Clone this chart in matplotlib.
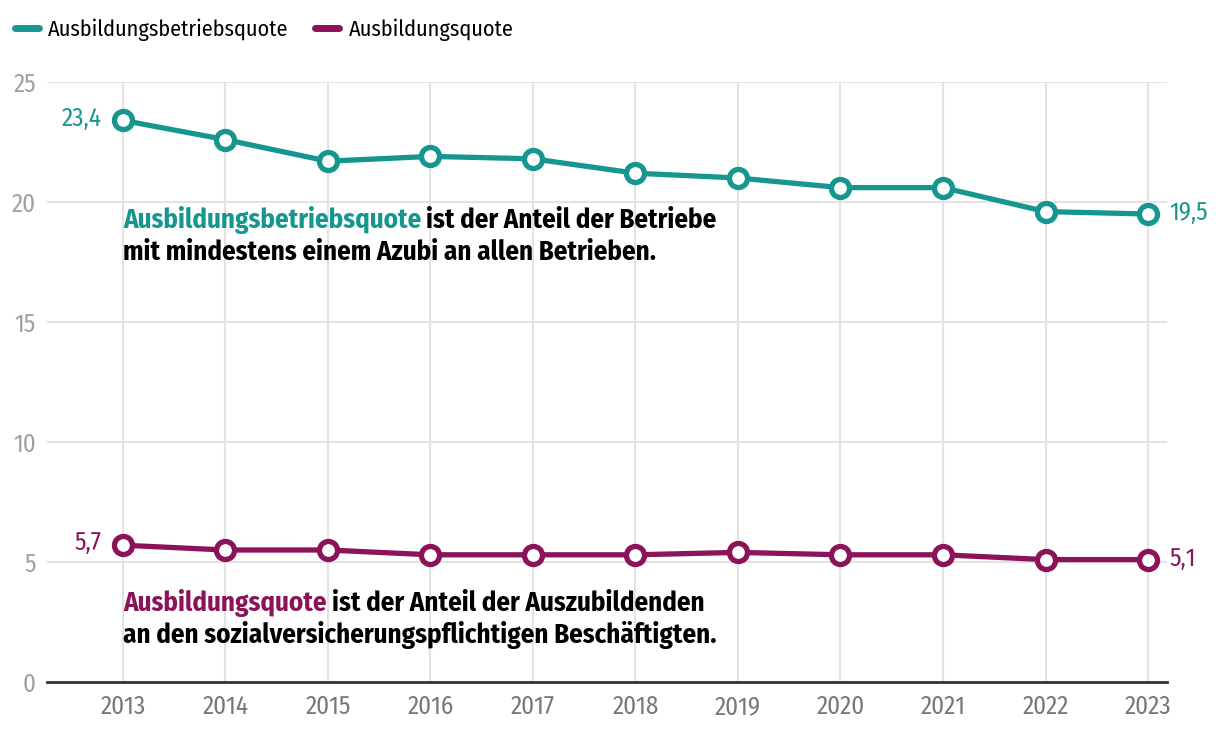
import matplotlib
matplotlib.use("Agg")
import matplotlib.pyplot as plt

years = [2013, 2014, 2015, 2016, 2017, 2018, 2019, 2020, 2021, 2022, 2023]
betriebsquote = [23.4, 22.6, 21.7, 21.9, 21.8, 21.2, 21.0, 20.6, 20.6, 19.6, 19.5]
ausbildungsquote = [5.7, 5.5, 5.5, 5.3, 5.3, 5.3, 5.4, 5.3, 5.3, 5.1, 5.1]
yticks = [0, 5, 10, 15, 20, 25]
series_names = ["Ausbildungsbetriebsquote", "Ausbildungsquote"]

TEAL = "#17968f"
PURPLE = "#8c1259"

plt.rcParams['font.family'] = ['Fira Sans Condensed', 'DejaVu Sans']

fig = plt.figure(figsize=(12.2, 7.32), dpi=100)
ax = fig.add_axes([47/1220, 1-682/732, (1167-47)/1220, (682-82)/732])

ax.set_xlim(2013 - 0.74, 2023 + 0.185)
ax.set_ylim(0, 25)
ax.set_yticks(yticks)
ax.set_xticks(years)
ax.grid(True, color="#e3e3e3", linewidth=1.5)
ax.set_axisbelow(True)
for s in ["top", "right", "left"]:
    ax.spines[s].set_visible(False)
ax.spines["bottom"].set_color("#333333")
ax.spines["bottom"].set_linewidth(2)
ax.tick_params(axis="both", length=0)
ax.tick_params(axis="y", labelsize=18, labelcolor="#a0a0a0", pad=8)
ax.tick_params(axis="x", labelsize=18, labelcolor="#777777", pad=9)

for vals, col, name in [(betriebsquote, TEAL, series_names[0]), (ausbildungsquote, PURPLE, series_names[1])]:
    ax.plot(years, vals, color=col, linewidth=3.8, marker="o", markersize=13,
            markerfacecolor="white", markeredgecolor=col, markeredgewidth=3.8,
            label=name, zorder=3, solid_capstyle="round")
    ax.annotate(f"{vals[0]:.1f}".replace(".", ","), (years[0], vals[0]),
                xytext=(-15.5, 1.5), textcoords="offset points", ha="right", va="center",
                color=col, fontsize=18)
    ax.annotate(f"{vals[-1]:.1f}".replace(".", ","), (years[-1], vals[-1]),
                xytext=(15.5, 1), textcoords="offset points", ha="left", va="center",
                color=col, fontsize=18)

# Explanation texts
def two_part(y_px, colored, col, rest1, line2):
    x0 = 123 / 1220
    t = fig.text(x0, 1 - y_px / 732, colored, color=col, fontsize=19.4, fontweight="bold", va="center")
    fig.canvas.draw()
    bb = t.get_window_extent()
    fig.text(bb.x1 / 1220 + 5 / 1220, 1 - y_px / 732, rest1, color="black", fontsize=19.4,
             fontweight="bold", va="center")
    fig.text(x0, 1 - (y_px + 32) / 732, line2, color="black", fontsize=19.4, fontweight="bold", va="center")

two_part(220, "Ausbildungsbetriebsquote", TEAL, "ist der Anteil der Betriebe",
         "mit mindestens einem Azubi an allen Betrieben.")
two_part(603, "Ausbildungsquote", PURPLE, "ist der Anteil der Auszubildenden",
         "an den sozialversicherungspflichtigen Beschäftigten.")

leg = fig.legend(loc="center left", bbox_to_anchor=(14.5/1220, 1 - 30/732), ncol=2, frameon=False,
                 fontsize=16, handlelength=1.08, handletextpad=0.43, columnspacing=1.2,
                 borderaxespad=0, borderpad=0)
for h in leg.legend_handles:
    h.set_marker("")
    h.set_linewidth(5)
    h.set_solid_capstyle("round")

fig.savefig("out.png", dpi=100)
